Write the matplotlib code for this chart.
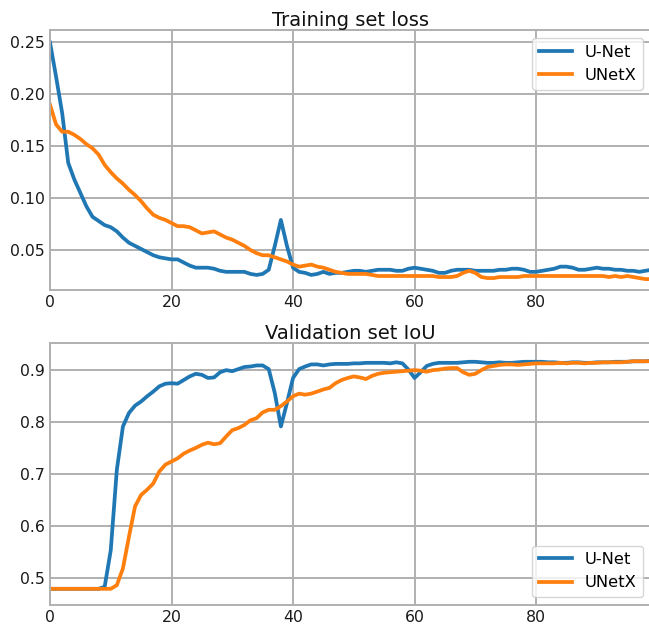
import matplotlib

matplotlib.use("Agg")
import matplotlib.pyplot as plt  # noqa: E402

# epochs 0..99
epochs = list(range(100))

# training set loss
unet_loss = [
    0.250, 0.217, 0.182, 0.134, 0.118, 0.105, 0.092, 0.082, 0.078, 0.074,
    0.072, 0.068, 0.062, 0.057, 0.054, 0.051, 0.048, 0.045, 0.043, 0.042,
    0.041, 0.041, 0.038, 0.035, 0.033, 0.033, 0.033, 0.032, 0.030, 0.029,
    0.029, 0.029, 0.029, 0.027, 0.026, 0.027, 0.031, 0.054, 0.079, 0.054,
    0.033, 0.029, 0.028, 0.026, 0.027, 0.029, 0.027, 0.028, 0.028, 0.029,
    0.030, 0.030, 0.029, 0.030, 0.031, 0.031, 0.031, 0.030, 0.030, 0.032,
    0.033, 0.032, 0.031, 0.030, 0.028, 0.028, 0.030, 0.031, 0.031, 0.031,
    0.030, 0.030, 0.030, 0.030, 0.031, 0.031, 0.032, 0.032, 0.031, 0.029,
    0.029, 0.030, 0.031, 0.032, 0.034, 0.034, 0.033, 0.031, 0.031, 0.032,
    0.033, 0.032, 0.032, 0.031, 0.031, 0.030, 0.030, 0.029, 0.030, 0.031,
]
unetx_loss = [
    0.190, 0.171, 0.164, 0.164, 0.161, 0.157, 0.152, 0.148, 0.142, 0.132,
    0.125, 0.119, 0.114, 0.108, 0.103, 0.097, 0.090, 0.084, 0.081, 0.079,
    0.076, 0.073, 0.073, 0.072, 0.069, 0.066, 0.067, 0.068, 0.065, 0.062,
    0.060, 0.057, 0.054, 0.050, 0.047, 0.045, 0.045, 0.043, 0.041, 0.039,
    0.036, 0.034, 0.035, 0.036, 0.034, 0.033, 0.031, 0.029, 0.028, 0.027,
    0.027, 0.027, 0.027, 0.026, 0.025, 0.025, 0.025, 0.025, 0.025, 0.025,
    0.025, 0.025, 0.025, 0.025, 0.024, 0.024, 0.024, 0.025, 0.028, 0.030,
    0.028, 0.024, 0.023, 0.023, 0.024, 0.024, 0.024, 0.024, 0.025, 0.025,
    0.025, 0.025, 0.025, 0.025, 0.025, 0.025, 0.025, 0.025, 0.025, 0.025,
    0.025, 0.025, 0.024, 0.025, 0.024, 0.025, 0.024, 0.023, 0.022, 0.022,
]

# validation set IoU
unet_iou = [
    0.480, 0.480, 0.480, 0.480, 0.480, 0.480, 0.480, 0.480, 0.480, 0.484,
    0.554, 0.708, 0.791, 0.817, 0.831, 0.839, 0.849, 0.858, 0.868, 0.873,
    0.874, 0.873, 0.880, 0.887, 0.892, 0.890, 0.884, 0.885, 0.895, 0.899,
    0.897, 0.901, 0.905, 0.906, 0.908, 0.908, 0.901, 0.855, 0.791, 0.836,
    0.884, 0.901, 0.906, 0.910, 0.910, 0.908, 0.910, 0.911, 0.911, 0.911,
    0.912, 0.912, 0.913, 0.913, 0.913, 0.913, 0.912, 0.914, 0.912, 0.900,
    0.884, 0.895, 0.907, 0.911, 0.913, 0.913, 0.913, 0.913, 0.914, 0.915,
    0.915, 0.914, 0.913, 0.913, 0.914, 0.913, 0.913, 0.914, 0.915, 0.915,
    0.915, 0.915, 0.914, 0.914, 0.913, 0.913, 0.914, 0.914, 0.913, 0.913,
    0.914, 0.914, 0.914, 0.915, 0.915, 0.915, 0.916, 0.916, 0.916, 0.917,
]
unetx_iou = [
    0.480, 0.480, 0.480, 0.480, 0.480, 0.480, 0.480, 0.480, 0.480, 0.480,
    0.480, 0.487, 0.519, 0.580, 0.638, 0.660, 0.670, 0.682, 0.705, 0.718,
    0.724, 0.730, 0.739, 0.745, 0.750, 0.756, 0.760, 0.757, 0.759, 0.772,
    0.784, 0.788, 0.794, 0.803, 0.807, 0.818, 0.823, 0.823, 0.830, 0.839,
    0.849, 0.854, 0.852, 0.854, 0.858, 0.862, 0.865, 0.874, 0.880, 0.884,
    0.887, 0.885, 0.882, 0.888, 0.892, 0.894, 0.895, 0.896, 0.897, 0.898,
    0.899, 0.898, 0.896, 0.899, 0.900, 0.902, 0.903, 0.903, 0.895, 0.890,
    0.892, 0.899, 0.905, 0.907, 0.909, 0.910, 0.910, 0.909, 0.910, 0.911,
    0.912, 0.912, 0.912, 0.912, 0.913, 0.912, 0.913, 0.913, 0.912, 0.913,
    0.913, 0.914, 0.914, 0.914, 0.914, 0.915, 0.916, 0.916, 0.916, 0.916,
]

series_names = ["U-Net", "UNetX"]
titles = ["Training set loss", "Validation set IoU"]

plt.rcParams["font.family"] = "DejaVu Sans"
plt.rcParams["font.size"] = 11

GRID = "#b0b0b0"

fig = plt.figure(figsize=(6.49, 6.26), dpi=100)
W, H = 649.0, 626.0
ax_top = fig.add_axes([50 / W, (H - 290) / H, 601.5 / W, 260 / H])
ax_bot = fig.add_axes([50 / W, (H - 605) / H, 601.5 / W, 262 / H])

panels = [
    (ax_top, unet_loss, unetx_loss, (0.0115, 0.262), "upper right"),
    (ax_bot, unet_iou, unetx_iou, (0.449, 0.951), "lower right"),
]

for (ax, a, b, ylim, loc), title in zip(panels, titles):
    ax.plot(epochs, a, color="#1f77b4", lw=2.7, label=series_names[0])
    ax.plot(epochs, b, color="#ff7f0e", lw=2.7, label=series_names[1])
    ax.set_xlim(0, 99)
    ax.set_ylim(*ylim)
    ax.set_xticks([0, 20, 40, 60, 80])
    ax.grid(True, color=GRID, linewidth=1.4)
    ax.set_axisbelow(True)
    for sp in ax.spines.values():
        sp.set_color(GRID)
        sp.set_linewidth(1.4)
    ax.tick_params(length=0, labelsize=11.3, colors="#1a1a1a")
    ax.set_title(title, fontsize=14, pad=3, color="#111111")
    ax.legend(loc=loc, fontsize=11.8, framealpha=0.8)

ax_bot.set_yticks([0.5, 0.6, 0.7, 0.8, 0.9])
ax_top.set_yticks([0.05, 0.10, 0.15, 0.20, 0.25])

fig.savefig("out.png", dpi=100)
